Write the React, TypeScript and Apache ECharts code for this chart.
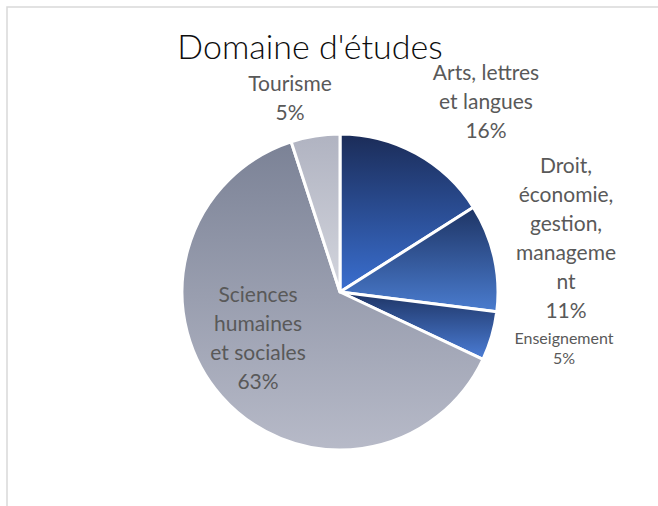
import React, { useEffect, useRef } from "react";
import * as echarts from "echarts";

const categories = [
  "Arts, lettres et langues",
  "Droit, économie, gestion, management",
  "Enseignement",
  "Sciences humaines et sociales",
  "Tourisme",
];
const values = [16, 11, 5, 63, 5];
const labelLines = [
  ["Arts, lettres", "et langues"],
  ["Droit,", "économie,", "gestion,", "manageme", "nt"],
  ["Enseignement"],
  ["Sciences", "humaines", "et sociales"],
  ["Tourisme"],
];
const titleText = "Domaine d'études";

// styling / layout (not data)
const gradients = [
  ["#1b2c58", "#3a6fd0"],
  ["#1e3464", "#4a7ccf"],
  ["#1e3464", "#4b7dd6"],
  ["#7b8296", "#b7bac8"],
  ["#b0b3c1", "#d3d5dd"],
];
const labelPos = [
  [486, 100],
  [566, 237],
  [564, 347],
  [258, 337],
  [290, 97],
];

export default function App() {
  const ref = useRef<HTMLDivElement>(null);
  useEffect(() => {
    if (!ref.current) return;
    const chart = echarts.init(ref.current, null, { renderer: "svg" });
    const total = values.reduce((a, b) => a + b, 0);
    chart.setOption({
      animation: false,
      backgroundColor: "#ffffff",
      title: {
        text: titleText,
        left: 305,
        top: 23,
        textAlign: "center",
        textStyle: {
          fontFamily: "Lato",
          fontSize: 34,
          fontWeight: 300,
          color: "#0d0d0d",
        },
      },
      graphic: [
        {
          type: "rect",
          shape: { x: 7, y: 7, width: 700, height: 600 },
          style: { fill: "none", stroke: "#d9d9d9", lineWidth: 1.5 },
          silent: true,
        },
      ],
      series: [
        {
          type: "pie",
          center: [340, 292],
          radius: 158,
          startAngle: 90,
          clockwise: true,
          avoidLabelOverlap: false,
          labelLine: { show: false },
          itemStyle: { borderColor: "#ffffff", borderWidth: 3 },
          label: {
            show: true,
            fontFamily: "Lato",
            fontSize: 21,
            lineHeight: 29,
            color: "#595959",
            align: "center",
          },
          labelLayout: (p: any) => ({
            x: labelPos[p.dataIndex][0],
            y: labelPos[p.dataIndex][1],
            align: "center",
            verticalAlign: "middle",
          }),
          data: categories.map((name, i) => ({
            name,
            value: values[i],
            itemStyle: {
              color: new echarts.graphic.LinearGradient(0, 0, 0, 1, [
                { offset: 0, color: gradients[i][0] },
                { offset: 1, color: gradients[i][1] },
              ]),
            },
            label: {
              formatter: () =>
                labelLines[i].join("\n") +
                "\n" +
                Math.round((values[i] / total) * 100) +
                "%",
              ...(i === 2 ? { fontSize: 16, lineHeight: 20 } : {}),
            },
          })),
        },
      ],
    });
    return () => chart.dispose();
  }, []);
  return (
    <div
      ref={ref}
      style={{ position: "absolute", left: 0, top: 0, width: 658, height: 506 }}
    />
  );
}
